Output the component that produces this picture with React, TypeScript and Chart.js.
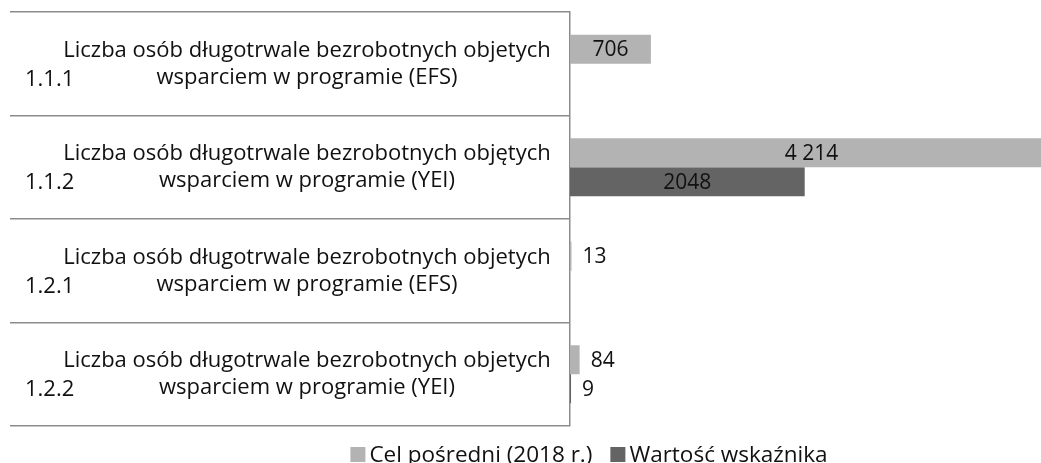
import { useEffect, useRef } from 'react';
import { Chart, registerables } from 'chart.js';

Chart.register(...registerables);

const categoryCodes = ['1.1.1', '1.1.2', '1.2.1', '1.2.2'];
const categoryLine1 = [
  'Liczba osób długotrwale bezrobotnych objetych',
  'Liczba osób długotrwale bezrobotnych objętych',
  'Liczba osób długotrwale bezrobotnych objetych',
  'Liczba osób długotrwale bezrobotnych objetych',
];
const categoryLine2 = [
  'wsparciem w programie (EFS)',
  'wsparciem w programie (YEI)',
  'wsparciem w programie (EFS)',
  'wsparciem w programie (YEI)',
];
const seriesNames = ['Cel pośredni (2018 r.)', 'Wartość wskaźnika'];
const celValues = [706, 4214, 13, 84];
const wartoscValues: (number | null)[] = [null, 2048, null, 9];
const celLabels = ['706', '4 214', '13', '84'];
const wartoscLabels = ['', '2048', '', '9'];
const seriesColors = ['#b3b3b3', '#646464'];

const FONT = '"Open Sans", "Noto Sans", sans-serif';
const TEXT_COLOR = '#111111';

const barLabelsPlugin = {
  id: 'barLabels',
  afterDatasetsDraw(chart: any) {
    const ctx = chart.ctx;
    const all = [celLabels, wartoscLabels];
    ctx.save();
    ctx.font = `21px ${FONT}`;
    ctx.fillStyle = TEXT_COLOR;
    ctx.textBaseline = 'middle';
    chart.data.datasets.forEach((_ds: any, di: number) => {
      const meta = chart.getDatasetMeta(di);
      meta.data.forEach((bar: any, i: number) => {
        const txt = all[di][i];
        if (!txt) return;
        const { x, y, base } = bar.getProps(['x', 'y', 'base'], true);
        const w = x - base;
        const tw = ctx.measureText(txt).width;
        if (w > tw + 12) {
          ctx.textAlign = 'center';
          ctx.fillText(txt, (x + base) / 2, y + 1);
        } else {
          ctx.textAlign = 'left';
          ctx.fillText(txt, x + 11, y + 1);
        }
      });
    });
    ctx.restore();
  },
};

const categoryTextPlugin = {
  id: 'categoryText',
  afterDraw(chart: any) {
    const ctx = chart.ctx;
    const yScale = chart.scales.y;
    const centerX = 307;
    ctx.save();
    ctx.fillStyle = TEXT_COLOR;
    ctx.textBaseline = 'alphabetic';
    ctx.font = `22px ${FONT}`;
    categoryCodes.forEach((code, i) => {
      const y = yScale.getPixelForValue(i);
      ctx.textAlign = 'center';
      ctx.fillText(categoryLine1[i], centerX, y - 7);
      ctx.fillText(categoryLine2[i], centerX, y + 20);
      ctx.textAlign = 'left';
      ctx.fillText(code, 25, y + 22);
    });
    ctx.restore();
  },
};

const legendPlugin = {
  id: 'customLegend',
  afterDraw(chart: any) {
    const ctx = chart.ctx;
    ctx.save();
    ctx.font = `22.5px ${FONT}`;
    ctx.textBaseline = 'alphabetic';
    ctx.textAlign = 'left';
    const box = 15;
    const gap = 4;
    const itemGap = 18;
    const items = chart.data.datasets.map((ds: any) => ({
      text: ds.label as string,
      color: ds.backgroundColor as string,
      w: box + gap + ctx.measureText(ds.label).width,
    }));
    const total = items.reduce((s: number, it: any) => s + it.w, 0) + itemGap * (items.length - 1);
    let x = 589 - total / 2;
    const top = 447;
    items.forEach((it: any) => {
      ctx.fillStyle = it.color;
      ctx.fillRect(x, top, box, box);
      ctx.fillStyle = TEXT_COLOR;
      ctx.fillText(it.text, x + box + gap, top + box);
      x += it.w + itemGap;
    });
    ctx.restore();
  },
};

export default function App() {
  const ref = useRef<HTMLCanvasElement | null>(null);

  useEffect(() => {
    if (!ref.current) return;
    const chart = new Chart(ref.current, {
      type: 'bar',
      data: {
        labels: categoryCodes,
        datasets: [
          {
            label: seriesNames[0],
            data: celValues,
            backgroundColor: seriesColors[0],
            categoryPercentage: 0.56,
            barPercentage: 1,
          },
          {
            label: seriesNames[1],
            data: wartoscValues,
            backgroundColor: seriesColors[1],
            categoryPercentage: 0.56,
            barPercentage: 1,
          },
        ],
      },
      options: {
        indexAxis: 'y',
        animation: false,
        responsive: false,
        maintainAspectRatio: false,
        layout: { padding: { left: 10, top: 12, bottom: 37, right: 0 } },
        scales: {
          x: { display: false, min: 0, max: 4110 },
          y: {
            grid: {
              offset: true,
              drawOnChartArea: false,
              drawTicks: true,
              tickLength: 560,
              color: '#8c8c8c',
              lineWidth: 1.5,
            },
            border: { display: true, color: '#8c8c8c', width: 1.5 },
            ticks: { display: false },
            afterFit: (s: any) => {
              s.width = 560;
            },
          },
        },
        plugins: {
          legend: { display: false },
          tooltip: { enabled: false },
        },
      } as any,
      plugins: [barLabelsPlugin, categoryTextPlugin, legendPlugin],
    });
    return () => chart.destroy();
  }, []);

  return (
    <div style={{ position: 'fixed', left: 0, top: 0, width: 1041, height: 463, background: '#fff' }}>
      <canvas ref={ref} width={1041} height={463} style={{ display: 'block' }} />
    </div>
  );
}
